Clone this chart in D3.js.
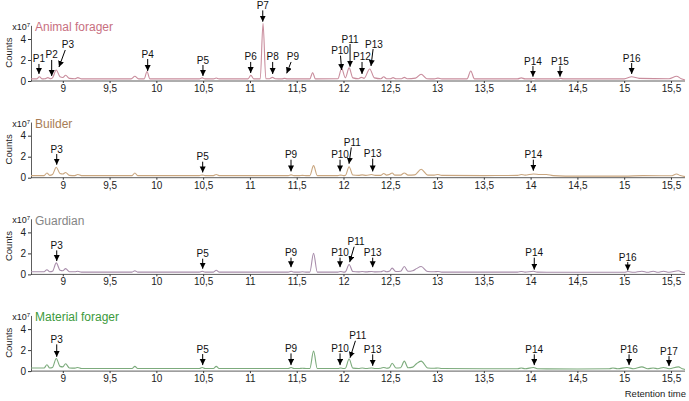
<!DOCTYPE html>
<html>
<head>
<meta charset="utf-8">
<script src="https://cdn.jsdelivr.net/npm/d3@7"></script>
<style>
  body { margin: 0; background: #fff; }
  svg { display: block; font-family: "Liberation Sans", Arial, sans-serif; }
</style>
</head>
<body>
<svg width="689" height="401"></svg>
<script>
// Retention time axis
var xDomain = [8.66, 15.65];
var xTicks = [9, 9.5, 10, 10.5, 11, 11.5, 12, 12.5, 13, 13.5, 14, 14.5, 15, 15.5];
var yTicks = [0, 2, 4];

var panelNames = ["Animal forager", "Builder", "Guardian", "Material forager"];

// Traces: [retention time, counts x10^7]
var animalForager = [
  [8.66,0.2],[8.72,0.2],[8.75,0.4],[8.78,0.2],[8.81,0.22],[8.84,0.32],[8.87,0.22],[8.89,0.3],[8.93,1.05],[8.97,0.4],
  [9.0,0.33],[9.03,0.55],[9.07,0.25],[9.13,0.22],[9.16,0.32],[9.2,0.2],[9.73,0.2],[9.77,0.45],[9.81,0.2],[9.87,0.2],
  [9.9,0.9],[9.93,0.2],[10.46,0.2],[10.49,0.3],[10.52,0.2],[10.61,0.2],[10.64,0.28],[10.67,0.2],[10.98,0.2],[11.01,0.55],
  [11.04,0.2],[11.11,0.2],[11.14,5.5],[11.17,0.22],[11.21,0.22],[11.24,0.35],[11.27,0.22],[11.34,0.2],[11.37,0.25],[11.4,0.2],
  [11.64,0.2],[11.67,0.8],[11.7,0.2],[11.94,0.22],[11.98,1.2],[12.02,0.3],[12.06,1.25],[12.1,0.3],[12.16,0.22],[12.19,0.35],
  [12.22,0.25],[12.28,1.15],[12.33,0.3],[12.4,0.22],[12.43,0.4],[12.46,0.22],[12.5,0.22],[12.53,0.32],[12.56,0.22],[12.62,0.22],
  [12.65,0.35],[12.68,0.22],[12.77,0.27],[12.83,0.65],[12.89,0.22],[12.97,0.2],[13.01,0.27],[13.05,0.2],[13.32,0.2],[13.36,0.95],
  [13.4,0.2],[13.86,0.2],[13.9,0.3],[13.94,0.2],[14.0,0.2],[14.03,0.24],[14.06,0.2],[14.29,0.2],[14.32,0.25],[14.35,0.2],
  [15.0,0.2],[15.08,0.4],[15.16,0.25],[15.48,0.22],[15.56,0.45],[15.61,0.22],[15.65,0.1]
];
var builder = [
  [8.66,0.2],[8.8,0.2],[8.83,0.45],[8.86,0.22],[8.89,0.3],[8.93,1.0],[8.97,0.4],[9.0,0.35],[9.03,0.5],[9.07,0.22],
  [9.13,0.2],[9.16,0.3],[9.2,0.2],[9.74,0.2],[9.77,0.45],[9.8,0.2],[10.46,0.2],[10.49,0.25],[10.52,0.2],[10.61,0.2],
  [10.64,0.3],[10.67,0.2],[11.41,0.2],[11.44,0.27],[11.47,0.2],[11.53,0.2],[11.56,0.22],[11.6,0.2],[11.64,0.2],[11.68,1.15],
  [11.72,0.2],[11.94,0.2],[11.97,0.25],[12.0,0.2],[12.02,0.22],[12.06,1.05],[12.1,0.25],[12.16,0.22],[12.2,0.27],[12.24,0.22],
  [12.3,0.3],[12.34,0.22],[12.4,0.22],[12.43,0.4],[12.46,0.25],[12.49,0.3],[12.52,0.45],[12.55,0.25],[12.61,0.25],[12.65,0.45],
  [12.69,0.25],[12.76,0.27],[12.83,0.8],[12.9,0.25],[12.97,0.25],[13.01,0.3],[13.05,0.22],[13.5,0.2],[13.86,0.22],[13.9,0.3],
  [13.94,0.25],[14.03,0.35],[14.1,0.3],[14.17,0.3],[14.24,0.2],[14.5,0.15],[15.0,0.15],[15.2,0.2],[15.5,0.18],[15.56,0.35],
  [15.6,0.2],[15.65,0.1]
];
var guardian = [
  [8.66,0.25],[8.8,0.25],[8.83,0.45],[8.86,0.25],[8.89,0.3],[8.93,1.1],[8.97,0.4],[9.0,0.35],[9.03,0.55],[9.07,0.25],
  [9.13,0.25],[9.16,0.3],[9.2,0.22],[9.74,0.22],[9.77,0.35],[9.8,0.22],[10.46,0.22],[10.49,0.3],[10.52,0.22],[10.61,0.22],
  [10.64,0.4],[10.67,0.22],[11.41,0.22],[11.44,0.3],[11.47,0.22],[11.53,0.22],[11.56,0.25],[11.6,0.22],[11.64,0.22],[11.68,2.0],
  [11.72,0.22],[11.94,0.22],[11.97,0.27],[12.0,0.22],[12.02,0.24],[12.06,0.95],[12.1,0.27],[12.16,0.24],[12.2,0.28],[12.24,0.24],
  [12.3,0.28],[12.34,0.24],[12.4,0.25],[12.43,0.35],[12.46,0.25],[12.49,0.3],[12.52,0.6],[12.56,0.27],[12.61,0.3],[12.65,0.75],
  [12.69,0.3],[12.74,0.35],[12.78,0.55],[12.83,0.75],[12.9,0.27],[12.97,0.25],[13.01,0.28],[13.05,0.22],[13.5,0.22],[13.86,0.22],
  [13.9,0.28],[13.94,0.22],[14.03,0.3],[14.07,0.22],[14.5,0.2],[15.0,0.2],[15.04,0.27],[15.1,0.2],[15.19,0.3],[15.25,0.2],
  [15.31,0.3],[15.36,0.2],[15.42,0.3],[15.48,0.2],[15.58,0.35],[15.62,0.2],[15.65,0.15]
];
var materialForager = [
  [8.66,0.3],[8.8,0.3],[8.83,0.6],[8.86,0.3],[8.89,0.35],[8.93,1.2],[8.97,0.45],[9.0,0.4],[9.03,0.7],[9.07,0.3],
  [9.13,0.28],[9.16,0.35],[9.2,0.25],[9.74,0.25],[9.77,0.45],[9.8,0.25],[10.46,0.25],[10.49,0.35],[10.52,0.25],[10.61,0.25],
  [10.64,0.45],[10.67,0.25],[11.41,0.25],[11.44,0.35],[11.47,0.25],[11.53,0.25],[11.56,0.27],[11.6,0.25],[11.64,0.25],[11.68,1.9],
  [11.72,0.25],[11.94,0.25],[11.97,0.3],[12.0,0.25],[12.02,0.27],[12.06,1.15],[12.1,0.28],[12.16,0.25],[12.2,0.3],[12.24,0.25],
  [12.3,0.3],[12.34,0.25],[12.4,0.27],[12.43,0.35],[12.46,0.27],[12.49,0.32],[12.52,0.75],[12.56,0.3],[12.61,0.32],[12.65,0.95],
  [12.69,0.32],[12.74,0.38],[12.78,0.7],[12.83,0.95],[12.9,0.3],[12.97,0.27],[13.01,0.3],[13.05,0.25],[13.5,0.22],[13.86,0.22],
  [13.9,0.3],[13.94,0.22],[14.03,0.35],[14.07,0.22],[14.5,0.2],[14.84,0.22],[14.88,0.3],[14.93,0.22],[15.03,0.35],[15.1,0.22],
  [15.19,0.4],[15.25,0.22],[15.31,0.3],[15.36,0.22],[15.42,0.35],[15.48,0.22],[15.58,0.4],[15.62,0.22],[15.65,0.15]
];
var traces = [animalForager, builder, guardian, materialForager];

// Peak annotations: [label, tip rt, tip counts, label rt, label counts]
var animalPeaks = [
  ["P1", 8.745, 0.67, 8.745, 2.1], ["P2", 8.881, 0.48, 8.881, 2.48], ["P3", 8.959, 1.33, 9.055, 3.43],
  ["P4", 9.907, 0.95, 9.907, 2.57], ["P5", 10.498, 0.48, 10.498, 2.0], ["P6", 11.008, 0.76, 11.008, 2.29],
  ["P7", 11.137, 5.65, 11.137, 7.2], ["P8", 11.243, 0.67, 11.243, 2.29], ["P9", 11.393, 0.73, 11.46, 2.29],
  ["P10", 11.98, 1.05, 11.963, 2.89], ["P11", 12.07, 1.36, 12.07, 4.0], ["P12", 12.198, 0.67, 12.198, 2.29],
  ["P13", 12.294, 1.43, 12.326, 3.52], ["P14", 14.025, 0.41, 14.025, 1.9], ["P15", 14.314, 0.41, 14.314, 1.9],
  ["P16", 15.08, 0.67, 15.08, 2.19]
];
var builderPeaks = [
  ["P3", 8.935, 1.24, 8.935, 2.73], ["P5", 10.495, 0.5, 10.495, 2.0], ["P9", 11.439, 0.6, 11.439, 2.19],
  ["P10", 11.963, 0.6, 11.963, 2.19], ["P11", 12.059, 1.33, 12.094, 3.36], ["P13", 12.312, 0.6, 12.312, 2.29],
  ["P14", 14.029, 0.67, 14.029, 2.19]
];
var guardianPeaks = [
  ["P3", 8.935, 1.27, 8.935, 2.76], ["P5", 10.495, 0.54, 10.495, 1.97], ["P9", 11.439, 0.69, 11.439, 2.07],
  ["P10", 11.963, 0.69, 11.963, 2.07], ["P11", 12.066, 1.17, 12.134, 3.11], ["P13", 12.312, 0.69, 12.312, 2.07],
  ["P14", 14.039, 0.45, 14.039, 2.07], ["P16", 15.038, 0.38, 15.038, 1.65]
];
var materialPeaks = [
  ["P3", 8.935, 1.36, 8.935, 3.02], ["P5", 10.495, 0.57, 10.495, 2.1], ["P9", 11.439, 0.57, 11.439, 2.16],
  ["P10", 11.963, 0.57, 11.963, 2.16], ["P11", 12.07, 1.27, 12.152, 3.36], ["P13", 12.312, 0.5, 12.312, 2.07],
  ["P14", 14.039, 0.57, 14.039, 2.07], ["P16", 15.052, 0.57, 15.052, 2.07], ["P17", 15.479, 0.48, 15.479, 1.9]
];
var peaks = [animalPeaks, builderPeaks, guardianPeaks, materialPeaks];

// Styles
var titleColors = ["#c8707f", "#a87d55", "#858585", "#3c9a3c"];
var lineColors = ["#c98d9d", "#c9a67f", "#a88dab", "#7cab7c"];

var svg = d3.select("svg");

var x = d3.scaleLinear().domain(xDomain).range([31, 685]);

// arrowhead
svg.append("defs").append("marker")
  .attr("id", "head")
  .attr("markerUnits", "userSpaceOnUse")
  .attr("markerWidth", 7).attr("markerHeight", 7)
  .attr("refX", 6).attr("refY", 3)
  .attr("orient", "auto")
  .append("path")
  .attr("d", "M0,0 L6,3 L0,6 z")
  .attr("fill", "#000");

panelNames.forEach(function (name, i) {
  var base = 81 + i * 96.7;
  var y = d3.scaleLinear().domain([0, 5.3]).range([base, base - 5.3 * 10.5]);
  var g = svg.append("g");

  // x axis
  var xAxis = g.append("g")
    .attr("transform", "translate(0," + base + ")")
    .call(d3.axisBottom(x).tickValues(xTicks).tickSize(2)
      .tickFormat(function (d) { return String(d).replace(".", ","); }));
  xAxis.select(".domain").attr("d", "M31,0H685").attr("stroke", "#333").attr("stroke-width", 0.8);
  xAxis.selectAll(".tick line").attr("stroke", "#333");
  xAxis.selectAll("text").attr("font-size", 10).attr("fill", "#222").attr("dy", "0.6em");

  // y axis
  var yAxis = g.append("g")
    .attr("transform", "translate(31,0)")
    .call(d3.axisLeft(y).tickValues(yTicks).tickSize(3).tickSizeOuter(0).tickFormat(d3.format("d")));
  yAxis.select(".domain").attr("stroke", "#333").attr("stroke-width", 0.8);
  yAxis.selectAll(".tick line").attr("stroke", "#333");
  yAxis.selectAll("text").attr("font-size", 10).attr("fill", "#222").attr("x", -5);

  // x10^7
  var mult = g.append("text")
    .attr("x", 30).attr("y", y(5.15) + 3)
    .attr("text-anchor", "end")
    .attr("font-size", 9).attr("fill", "#222");
  mult.append("tspan").text("x10");
  mult.append("tspan").attr("dy", -3).attr("font-size", 6).text("7");

  // Counts
  g.append("text")
    .attr("transform", "translate(12," + y(2.7) + ") rotate(-90)")
    .attr("text-anchor", "middle")
    .attr("font-size", 9.5).attr("fill", "#222")
    .text("Counts");

  // title
  g.append("text")
    .attr("x", 35).attr("y", y(5.15))
    .attr("dy", "0.35em")
    .attr("font-size", 12)
    .attr("fill", titleColors[i])
    .text(name);

  // trace
  var line = d3.line()
    .x(function (d) { return x(d[0]); })
    .y(function (d) { return y(d[1]); })
    .curve(d3.curveMonotoneX);
  g.append("path")
    .datum(traces[i])
    .attr("d", line)
    .attr("fill", "none")
    .attr("stroke", lineColors[i])
    .attr("stroke-width", 1.1);

  // annotations
  var ann = g.selectAll(".ann").data(peaks[i]).enter().append("g").attr("class", "ann");
  ann.append("line")
    .attr("x1", function (d) { return x(d[3]) + (x(d[1]) - x(d[3])) * 0.3; })
    .attr("y1", function (d) { return y(d[4]) + 5; })
    .attr("x2", function (d) { return x(d[1]); })
    .attr("y2", function (d) { return y(d[2]); })
    .attr("stroke", "#000")
    .attr("stroke-width", 1)
    .attr("marker-end", "url(#head)");
  ann.append("text")
    .attr("x", function (d) { return x(d[3]); })
    .attr("y", function (d) { return y(d[4]); })
    .attr("text-anchor", "middle")
    .attr("dy", "0.35em")
    .attr("font-size", 10)
    .attr("fill", "#111")
    .text(function (d) { return d[0]; });
});

svg.append("text")
  .attr("x", 686).attr("y", 397)
  .attr("text-anchor", "end")
  .attr("font-size", 9.5)
  .attr("fill", "#222")
  .text("Retention time");
</script>
</body>
</html>
